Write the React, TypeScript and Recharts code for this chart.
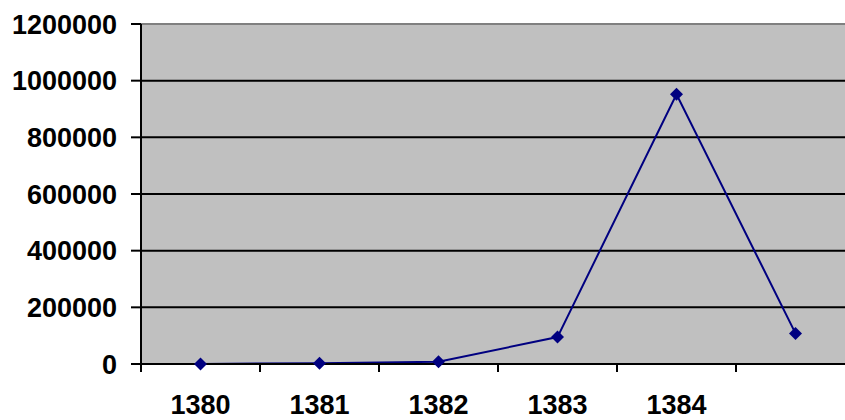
import { LineChart, Line, XAxis, YAxis, CartesianGrid, ReferenceLine } from "recharts"

const years = ["1380", "1381", "1382", "1383", "1384", ""]
const values = [0, 3000, 8000, 95000, 952000, 108000]
const yTicks = [0, 200000, 400000, 600000, 800000, 1000000, 1200000]

const data = years.map((year, i) => ({ year, value: values[i] }))

const font = "Arial, 'Liberation Sans', sans-serif"
const navy = "#000080"

// category ticks sit between the bands, labels in the middle (like the old office charts)
function XTick(props: any) {
  const { x, y, payload } = props
  const half = payload.offset ?? 0
  return (
    <g>
      <line x1={x - half} x2={x - half} y1={y} y2={y + 8} stroke="#000" strokeWidth={2} />
      <text x={x} y={y + 50} textAnchor="middle" fontFamily={font} fontSize={27} fontWeight="bold" fill="#000">
        {payload.value}
      </text>
    </g>
  )
}

function Diamond(props: any) {
  const { cx, cy } = props
  if (cx == null || cy == null) return null
  const r = 6.5
  return (
    <polygon
      points={`${cx},${cy - r} ${cx + r},${cy} ${cx},${cy + r} ${cx - r},${cy}`}
      fill={navy}
    />
  )
}

export default function App() {
  return (
    <div style={{ position: "fixed", left: 0, top: 0, width: 845, height: 420, overflow: "hidden", background: "#fff" }}>
      <LineChart width={860} height={420} data={data} margin={{ top: 24, right: 5, bottom: 0, left: 0 }}>
        <CartesianGrid vertical={false} stroke="#000" strokeWidth={2} fill="#C0C0C0" fillOpacity={1} />
        <ReferenceLine y={1200000} stroke="#808080" strokeWidth={2} />
        <XAxis
          dataKey="year"
          scale="band"
          interval={0}
          height={56}
          tickSize={0}
          tickMargin={0}
          tickLine={false}
          axisLine={{ stroke: "#000", strokeWidth: 2 }}
          tick={<XTick />}
        />
        <YAxis
          width={141}
          domain={[0, 1200000]}
          ticks={yTicks}
          interval={0}
          tickSize={10}
          tickMargin={14}
          axisLine={{ stroke: "#000", strokeWidth: 2 }}
          tickLine={{ stroke: "#000", strokeWidth: 2 }}
          tick={{ fontFamily: font, fontSize: 27, fontWeight: "bold", fill: "#000" }}
        />
        <Line
          type="linear"
          dataKey="value"
          stroke={navy}
          strokeWidth={2}
          dot={<Diamond />}
          activeDot={false}
          isAnimationActive={false}
        />
      </LineChart>
    </div>
  )
}
